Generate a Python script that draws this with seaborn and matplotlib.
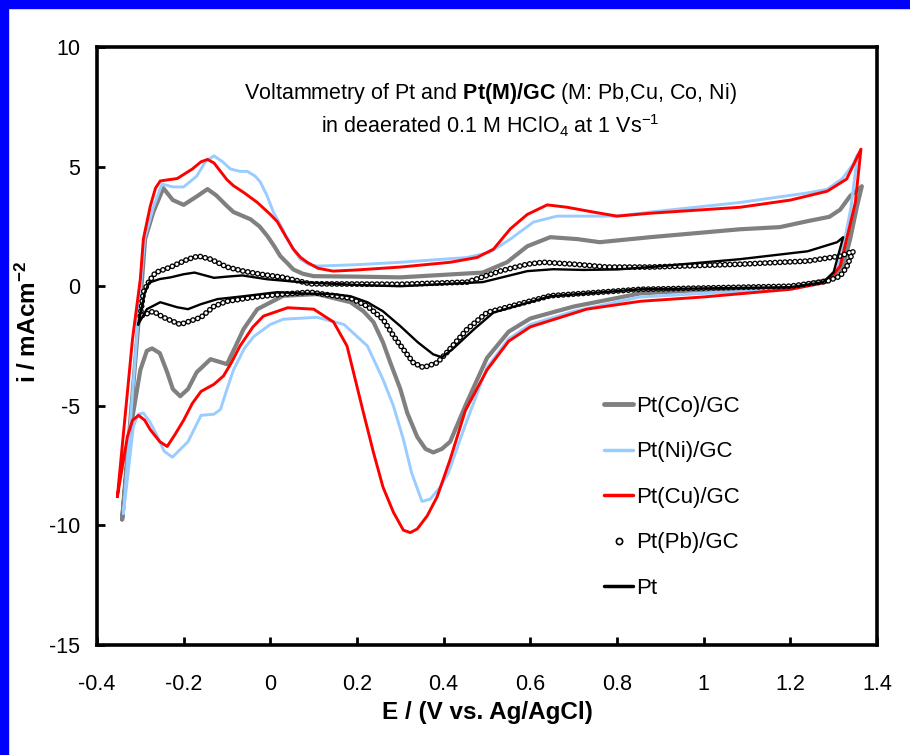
import numpy as np
import pandas as pd
import matplotlib
matplotlib.use("Agg")
import matplotlib.pyplot as plt
from matplotlib.lines import Line2D
from matplotlib.patches import Rectangle
import seaborn as sns

# ---------------- data ----------------
E_co = [-0.342, -0.296, -0.289, -0.27, -0.247, -0.225, -0.2, -0.17, -0.145, -0.125, -0.1, -0.085,
        -0.046, -0.025, -0.007, 0.008, 0.023, 0.04, 0.053, 0.075, 0.1, 0.2, 0.3, 0.49, 0.546,
        0.593, 0.646, 0.708, 0.76, 0.877, 1.084, 1.176, 1.24, 1.29, 1.315, 1.338, 1.365,
        1.354, 1.338, 1.322, 1.292, 1.2, 1.0, 0.854, 0.7, 0.6, 0.55, 0.5, 0.45, 0.415, 0.396,
        0.376, 0.358, 0.339, 0.316, 0.3, 0.277, 0.26, 0.238, 0.215, 0.185, 0.108, 0.03, -0.03,
        -0.062, -0.08, -0.1, -0.138, -0.17, -0.19, -0.208, -0.225, -0.238, -0.255, -0.273,
        -0.285, -0.3, -0.323, -0.342]
i_co = [-9.75, 0.3, 1.97, 3.1, 4.1, 3.6, 3.4, 3.75, 4.06, 3.8, 3.35, 3.1,
        2.8, 2.5, 2.1, 1.7, 1.26, 0.95, 0.7, 0.52, 0.42, 0.4, 0.37, 0.57, 1.0,
        1.67, 2.05, 1.97, 1.84, 2.05, 2.38, 2.47, 2.72, 2.9, 3.2, 3.77, 4.18,
        3.35, 1.97, 0.84, 0.29, -0.04, -0.15, -0.3, -0.85, -1.35, -1.9, -3.0, -5.0, -6.5, -6.8,
        -6.95, -6.8, -6.3, -5.3, -4.3, -3.2, -2.35, -1.5, -1.05, -0.67, -0.33, -0.4, -0.96,
        -1.8, -2.5, -3.26, -3.05, -3.6, -4.3, -4.6, -4.3, -3.6, -2.8, -2.6,
        -2.7, -3.5, -6.0, -9.75]

E_ni = [-0.339, -0.298, -0.29, -0.27, -0.25, -0.225, -0.2, -0.17, -0.15, -0.13, -0.11, -0.092,
        -0.07, -0.053, -0.035, -0.023, -0.008, 0.007, 0.025, 0.04, 0.055, 0.069, 0.09, 0.108,
        0.2, 0.3, 0.454, 0.507, 0.554, 0.607, 0.662, 0.722, 0.8, 0.877, 1.084, 1.24, 1.285,
        1.32, 1.345, 1.355,
        1.34, 1.325, 1.31, 1.28, 1.2, 1.0, 0.854, 0.7, 0.6, 0.55, 0.5, 0.45, 0.411, 0.392,
        0.369, 0.35, 0.326, 0.307, 0.284, 0.26, 0.224, 0.17, 0.108, 0.03, 0.0, -0.038, -0.06,
        -0.085, -0.1, -0.115, -0.13, -0.16, -0.19, -0.226, -0.245, -0.26, -0.277, -0.293,
        -0.305, -0.316, -0.339]
i_ni = [-9.5, 0.3, 2.0, 3.3, 4.27, 4.15, 4.15, 4.6, 5.2, 5.45, 5.2, 4.9,
        4.8, 4.8, 4.6, 4.35, 3.8, 3.1, 2.5, 1.97, 1.5, 1.13, 0.9, 0.84,
        0.9, 1.0, 1.2, 1.42, 1.97, 2.68, 2.93, 2.93, 2.93, 3.1, 3.5, 3.9, 4.05,
        4.5, 5.1, 5.5,
        3.3, 1.9, 0.8, 0.15, -0.13, -0.3, -0.45, -1.05, -1.6, -2.2, -3.4, -5.8, -7.8, -8.4,
        -8.9, -9.0, -7.8, -6.4, -5.0, -3.9, -2.5, -1.6, -1.3, -1.38, -1.6, -2.1, -2.6,
        -3.5, -4.3, -5.15, -5.35, -5.4, -6.5, -7.15, -6.9, -6.3, -5.7, -5.3,
        -5.35, -5.85, -9.5]

E_cu = [-0.353, -0.318, -0.30, -0.293, -0.277, -0.265, -0.254, -0.235, -0.215, -0.18, -0.16,
        -0.145, -0.13, -0.115, -0.1, -0.085, -0.06, -0.03, 0.0, 0.016, 0.035, 0.053, 0.07,
        0.085, 0.11, 0.145, 0.2, 0.3, 0.415, 0.477, 0.515, 0.554, 0.593, 0.639, 0.685, 0.745,
        0.8, 0.877, 1.084, 1.2, 1.285, 1.33, 1.363,
        1.35, 1.33, 1.315, 1.285, 1.2, 1.0, 0.854, 0.73, 0.6, 0.55, 0.5, 0.45, 0.415, 0.385,
        0.362, 0.339, 0.323, 0.307, 0.284, 0.26, 0.238, 0.215, 0.177, 0.146, 0.1, 0.04,
        -0.016, -0.04, -0.07, -0.09, -0.108, -0.13, -0.16, -0.18, -0.2, -0.22, -0.238,
        -0.255, -0.277, -0.29, -0.304, -0.318, -0.33, -0.353]
i_cu = [-8.8, -2.2, 0.3, 1.97, 3.35, 4.1, 4.4, 4.45, 4.5, 4.9, 5.2,
        5.3, 5.15, 4.8, 4.45, 4.2, 3.9, 3.5, 3.0, 2.7, 2.1, 1.55, 1.2,
        1.0, 0.75, 0.63, 0.68, 0.8, 1.0, 1.2, 1.55, 2.4, 3.0, 3.4, 3.3, 3.1,
        2.93, 3.05, 3.3, 3.6, 3.97, 4.48, 5.73,
        3.5, 1.97, 0.84, 0.17, -0.13, -0.45, -0.63, -0.96, -1.7, -2.3, -3.5, -5.2, -7.24, -8.8,
        -9.6, -10.15, -10.3, -10.2, -9.45, -8.4, -6.95, -5.3, -2.5, -1.5, -0.96, -0.9,
        -1.25, -1.7, -2.5, -3.2, -3.75, -4.1, -4.4, -4.9, -5.6, -6.2, -6.7,
        -6.5, -6.0, -5.6, -5.4, -5.6, -6.3, -8.8]

E_pb = [-0.30, -0.293, -0.28, -0.265, -0.23, -0.19, -0.166, -0.138, -0.1, -0.062, -0.023, 0.03,
        0.092, 0.3, 0.454, 0.53, 0.593, 0.63, 0.7, 0.777, 0.877, 1.084, 1.24, 1.315, 1.345,
        1.33, 1.315, 1.285, 1.2, 0.854, 0.646, 0.5, 0.454, 0.408, 0.385, 0.353, 0.33, 0.307,
        0.285, 0.26, 0.224, 0.185, 0.092, 0.03, -0.038, -0.1, -0.13, -0.16, -0.208, -0.247,
        -0.27, -0.30]
i_pb = [-1.25, -0.25, 0.2, 0.57, 0.8, 1.13, 1.26, 1.13, 0.8, 0.63, 0.5, 0.37,
        0.1, 0.08, 0.17, 0.63, 0.92, 1.0, 0.92, 0.8, 0.8, 0.92, 1.05, 1.26, 1.46,
        0.8, 0.42, 0.21, 0.0, -0.13, -0.4, -1.1, -1.8, -2.76, -3.2, -3.4, -3.2, -2.64,
        -2.1, -1.38, -0.84, -0.5, -0.25, -0.33, -0.46, -0.63, -0.84, -1.3, -1.6, -1.3,
        -1.05, -1.25]

E_pt = [-0.305, -0.29, -0.28, -0.255, -0.23, -0.2, -0.175, -0.13, -0.1, -0.065, -0.007, 0.069,
        0.2, 0.3, 0.49, 0.546, 0.593, 0.653, 0.722, 0.8, 0.877, 1.084, 1.24, 1.308, 1.322,
        1.31, 1.3, 1.276, 1.2, 0.854, 0.646, 0.515, 0.47, 0.42, 0.396, 0.376, 0.34, 0.3, 0.26,
        0.224, 0.185, 0.145, 0.069, 0.016, -0.062, -0.122, -0.16, -0.19, -0.215, -0.254,
        -0.285, -0.305]
i_pt = [-1.6, -0.3, 0.15, 0.3, 0.37, 0.5, 0.57, 0.35, 0.4, 0.45, 0.29, 0.17,
        0.05, 0.0, 0.17, 0.42, 0.63, 0.71, 0.68, 0.7, 0.8, 1.13, 1.46, 1.84, 2.05,
        1.26, 0.59, 0.17, -0.04, -0.13, -0.42, -1.1, -1.8, -2.64, -2.97, -2.85, -2.34, -1.67,
        -1.05, -0.67, -0.42, -0.33, -0.3, -0.25, -0.42, -0.54, -0.75, -0.96, -0.88, -0.67,
        -0.96, -1.6]

labels = ["Pt(Co)/GC", "Pt(Ni)/GC", "Pt(Cu)/GC", "Pt(Pb)/GC", "Pt"]
x_ticks = [-0.4, -0.2, 0, 0.2, 0.4, 0.6, 0.8, 1, 1.2, 1.4]
x_ticklabels = ["-0.4", "-0.2", "0", "0.2", "0.4", "0.6", "0.8", "1", "1.2", "1.4"]
y_ticks = [-15, -10, -5, 0, 5, 10]
y_ticklabels = ["-15", "-10", "-5", "0", "5", "10"]

# ---------------- style ----------------
sns.set_theme(style="white")
plt.rcParams["font.family"] = ["Liberation Sans", "DejaVu Sans"]
plt.rcParams["mathtext.fontset"] = "custom"
plt.rcParams["mathtext.rm"] = "Liberation Sans"
plt.rcParams["mathtext.bf"] = "Liberation Sans:bold"
plt.rcParams["mathtext.it"] = "Liberation Sans:italic"
plt.rcParams["axes.unicode_minus"] = False
plt.rcParams["lines.scale_dashes"] = False

C_CO, C_NI, C_CU = "#808080", "#99CCFF", "#FF0000"

fig = plt.figure(figsize=(9.1, 7.55), dpi=100)
fig.patch.set_facecolor("white")
ax = fig.add_axes([97 / 910, 1 - 645 / 755, 780 / 910, 598 / 755])
ax.set_facecolor("white")

# blue frame (left and top)
fig.patches.append(Rectangle((0, 0), 8 / 910, 1, transform=fig.transFigure,
                             color="#0000FF", zorder=0))
fig.patches.append(Rectangle((0, 1 - 8 / 755), 1, 8 / 755, transform=fig.transFigure,
                             color="#0000FF", zorder=0))


def draw(E, I, color, lw, z):
    df = pd.DataFrame({"E": E, "i": I})
    sns.lineplot(data=df, x="E", y="i", sort=False, estimator=None, color=color,
                 lw=lw, ax=ax, zorder=z, legend=False)
    line = ax.lines[-1]
    line.set_solid_joinstyle("round")
    line.set_solid_capstyle("round")
    return line


draw(E_co, i_co, C_CO, 3.0, 2)
draw(E_ni, i_ni, C_NI, 2.1, 3)
draw(E_cu, i_cu, C_CU, 2.1, 4)

# Pt(Pb)/GC : chain of small open circles
pat = (0, (0.01, 3.6))
l1 = draw(E_pb, i_pb, "black", 4.2, 5)
l1.set_linestyle(pat)
l1.set_dash_capstyle("round")
l2 = draw(E_pb, i_pb, "white", 2.3, 6)
l2.set_linestyle(pat)
l2.set_dash_capstyle("round")

draw(E_pt, i_pt, "black", 1.7, 7)

# ---------------- axes ----------------
ax.set_xlim(-0.4, 1.4)
ax.set_ylim(-15, 10)
ax.set_xticks(x_ticks)
ax.set_xticklabels(x_ticklabels)
ax.set_yticks(y_ticks)
ax.set_yticklabels(y_ticklabels)
ax.tick_params(axis="both", direction="in", length=6, width=2, color="black",
               labelsize=15.5, labelcolor="black")
ax.tick_params(axis="x", pad=21, bottom=True)
ax.tick_params(axis="y", pad=12, left=True)
for s in ax.spines.values():
    s.set_visible(True)
    s.set_color("black")
    s.set_linewidth(2.6)

ax.set_xlabel("E / (V vs. Ag/AgCl)", fontsize=17.5, fontweight="bold", color="black")
ax.set_ylabel(r"i / mAcm$^{\mathbf{-2}}$", fontsize=17.5, fontweight="bold", color="black")
ax.xaxis.set_label_coords(0.5, -0.093)
ax.yaxis.set_label_coords(-0.072, 0.54)

ax.text(0.504, 0.923, r"Voltammetry of Pt and $\mathbf{Pt(M)/GC}$ (M: Pb,Cu, Co, Ni)",
        transform=ax.transAxes, ha="center", va="center", fontsize=15.5, color="black")
ax.text(0.504, 0.868, r"in deaerated 0.1 M HClO$_4$ at 1 Vs$^{-1}$",
        transform=ax.transAxes, ha="center", va="center", fontsize=15.5, color="black")

handles = [
    Line2D([], [], color=C_CO, lw=3.5),
    Line2D([], [], color=C_NI, lw=2.5),
    Line2D([], [], color=C_CU, lw=2.5),
    Line2D([], [], color="black", lw=0, marker="o", ms=4.5, mfc="white", mec="black", mew=1.2),
    Line2D([], [], color="black", lw=2.5),
]
leg = ax.legend(handles, labels, loc="upper left", bbox_to_anchor=(0.636, 0.435),
                frameon=False, fontsize=16, handlelength=1.3, handletextpad=0.15,
                labelspacing=1.1, borderpad=0)
for t in leg.get_texts():
    t.set_color("black")

fig.savefig("out.png", dpi=100, facecolor="white")
